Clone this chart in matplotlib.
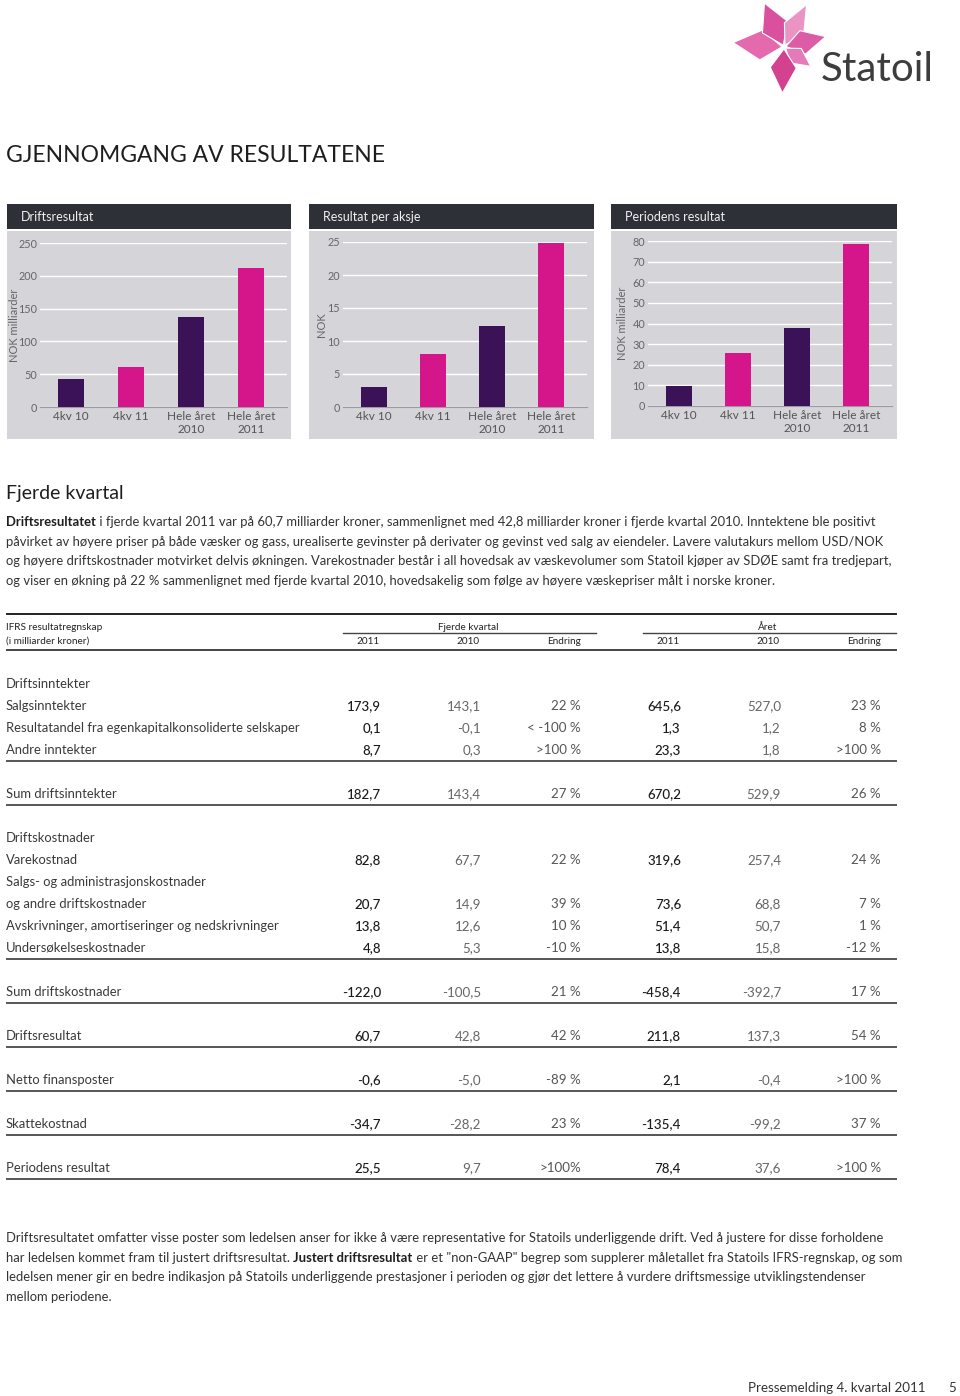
import matplotlib
matplotlib.use('Agg')
import matplotlib.pyplot as plt
from matplotlib.patches import Rectangle, Polygon
import numpy as np

plt.rcParams['font.family'] = ['Lato', 'DejaVu Sans']

# ---- data: bar charts
kategorier = ['4kv 10', '4kv 11', 'Hele året\n2010', 'Hele året\n2011']
driftsresultat = [42.8, 60.7, 137.3, 211.8]
resultat_aksje = [3.0, 8.1, 12.2, 24.8]
periodens_resultat = [9.7, 25.5, 37.6, 78.4]
farger = ['#3b1158', '#d5158a', '#3b1158', '#d5158a']

# ---- data: tabell
rad_tekst = ['Driftsinntekter', 'Salgsinntekter',
             'Resultatandel fra egenkapitalkonsoliderte selskaper', 'Andre inntekter',
             'Sum driftsinntekter', 'Driftskostnader', 'Varekostnad',
             'Salgs- og administrasjonskostnader', 'og andre driftskostnader',
             'Avskrivninger, amortiseringer og nedskrivninger', 'Undersøkelseskostnader',
             'Sum driftskostnader', 'Driftsresultat', 'Netto finansposter',
             'Skattekostnad', 'Periodens resultat']
kv_2011 = ['', '173,9', '0,1', '8,7', '182,7', '', '82,8', '', '20,7', '13,8', '4,8',
           '-122,0', '60,7', '-0,6', '-34,7', '25,5']
kv_2010 = ['', '143,1', '-0,1', '0,3', '143,4', '', '67,7', '', '14,9', '12,6', '5,3',
           '-100,5', '42,8', '-5,0', '-28,2', '9,7']
kv_endr = ['', '22 %', '< -100 %', '>100 %', '27 %', '', '22 %', '', '39 %', '10 %', '-10 %',
           '21 %', '42 %', '-89 %', '23 %', '>100%']
ar_2011 = ['', '645,6', '1,3', '23,3', '670,2', '', '319,6', '', '73,6', '51,4', '13,8',
           '-458,4', '211,8', '2,1', '-135,4', '78,4']
ar_2010 = ['', '527,0', '1,2', '1,8', '529,9', '', '257,4', '', '68,8', '50,7', '15,8',
           '-392,7', '137,3', '-0,4', '-99,2', '37,6']
ar_endr = ['', '23 %', '8 %', '>100 %', '26 %', '', '24 %', '', '7 %', '1 %', '-12 %',
           '17 %', '54 %', '>100 %', '37 %', '>100 %']
slutt_gruppe = [3, 4, 10, 11, 12, 13, 14, 15]

W, H = 960, 1396
fig = plt.figure(figsize=(W / 100, H / 100), dpi=100)
ax = fig.add_axes([0, 0, 1, 1])
ax.set_xlim(0, W)
ax.set_ylim(H, 0)
ax.axis('off')

TXT = '#333333'

# ---- logo
senter = np.array([784.0, 47.0])
blader = [(175, 51, 15, '#e46aad'), (114, 48, 14, '#d9509f'), (62, 48, 11, '#eb94c4'),
          (14, 43, 12, '#dd5ca6'), (-36, 33, 9, '#e47ab7'), (-92, 46, 13, '#d4418f')]
for vinkel, lengde, bredde, c in blader:
    a = np.deg2rad(vinkel)
    d = np.array([np.cos(a), -np.sin(a)])
    n = np.array([-d[1], d[0]])
    p0 = senter + d * 2
    p1 = senter + d * (lengde * 0.45) + n * bredde
    p2 = senter + d * lengde
    p3 = senter + d * (lengde * 0.45) - n * bredde
    ax.add_patch(Polygon([p0, p1, p2, p3], closed=True, fc=c, ec='white', lw=0.8))
ax.text(821, 81, 'Statoil', fontsize=29, color='#3d3d3d', va='baseline', ha='left')

# ---- tittel
ax.text(6, 162, 'GJENNOMGANG AV RESULTATENE', fontsize=16.5, color='#1e1e1e', va='baseline')


def px_akse(x1, y1, x2, y2):
    return fig.add_axes([x1 / W, 1 - y2 / H, (x2 - x1) / W, (y2 - y1) / H])


paneler = [
    ('Driftsresultat', driftsresultat, 'NOK milliarder', 7, 291, (40, 243, 287, 407), 250, 50, 15),
    ('Resultat per aksje', resultat_aksje, 'NOK', 309, 594, (343, 242, 587, 407), 25, 5, 321),
    ('Periodens resultat', periodens_resultat, 'NOK milliarder', 611, 897, (648, 241, 892, 406), 80, 10, 622),
]
for tittel, verdier, ylabel, px1, px2, boks, ymax, ysteg, ylx in paneler:
    ax.add_patch(Rectangle((px1, 204), px2 - px1, 25, fc='#2e3037', ec='none'))
    ax.text(px1 + 14, 217, tittel, fontsize=9, color='#f0f0f0', va='center')
    ax.add_patch(Rectangle((px1, 231), px2 - px1, 208, fc='#d5d5d9', ec='none'))
    ax.text(ylx, (boks[1] + boks[3]) / 2, ylabel, rotation=90, fontsize=8,
            color='#666666', va='center', ha='center')

    cax = px_akse(*boks)
    cax.set_facecolor('none')
    pos = np.arange(len(kategorier))
    cax.bar(pos, verdier, width=0.44, color=farger, zorder=3)
    cax.set_xlim(-0.52, 3.6)
    cax.set_ylim(0, ymax)
    cax.set_yticks(np.arange(0, ymax + 1, ysteg))
    cax.set_xticks(pos)
    cax.set_xticklabels(kategorier, fontsize=8.5, color='#555555', linespacing=1.2)
    cax.tick_params(axis='y', labelsize=7.8, labelcolor='#666666', length=0, pad=2)
    cax.tick_params(axis='x', length=0, pad=3)
    cax.grid(axis='y', color='white', lw=1.0, zorder=0)
    for s in ['top', 'right', 'left']:
        cax.spines[s].set_visible(False)
    cax.spines['bottom'].set_color('#9a9aa0')
    cax.spines['bottom'].set_linewidth(0.8)


# ---- tekst med fet start
def linje(x, y, deler, size=9.35):
    forrige = None
    for tekst, fet in deler:
        kw = dict(fontsize=size, color='#1e1e1e' if fet else TXT,
                  fontweight='bold' if fet else 'normal')
        if forrige is None:
            forrige = ax.text(x, y, tekst, va='bottom', ha='left', **kw)
        else:
            forrige = ax.annotate(tekst, xy=(1, 0), xycoords=forrige,
                                  va='bottom', ha='left', **kw)


ax.text(6, 499, 'Fjerde kvartal', fontsize=14, color='#1e1e1e', va='baseline')

avsnitt1 = [
    [('Driftsresultatet', True), (' i fjerde kvartal 2011 var på 60,7 milliarder kroner, sammenlignet med 42,8 milliarder kroner i fjerde kvartal 2010. Inntektene ble positivt', False)],
    [('påvirket av høyere priser på både væsker og gass, urealiserte gevinster på derivater og gevinst ved salg av eiendeler. Lavere valutakurs mellom USD/NOK', False)],
    [('og høyere driftskostnader motvirket delvis økningen. Varekostnader består i all hovedsak av væskevolumer som Statoil kjøper av SDØE samt fra tredjepart,', False)],
    [('og viser en økning på 22 % sammenlignet med fjerde kvartal 2010, hovedsakelig som følge av høyere væskepriser målt i norske kroner.', False)],
]
for i, deler in enumerate(avsnitt1):
    linje(6, 528 + i * 19.6, deler)

avsnitt2 = [
    [('Driftsresultatet omfatter visse poster som ledelsen anser for ikke å være representative for Statoils underliggende drift. Ved å justere for disse forholdene', False)],
    [('har ledelsen kommet fram til justert driftsresultat. ', False), ('Justert driftsresultat', True), (' er et "non-GAAP" begrep som supplerer måletallet fra Statoils IFRS-regnskap, og som', False)],
    [('ledelsen mener gir en bedre indikasjon på Statoils underliggende prestasjoner i perioden og gjør det lettere å vurdere driftsmessige utviklingstendenser', False)],
    [('mellom periodene.', False)],
]
for i, deler in enumerate(avsnitt2):
    linje(6, 1244 + i * 19.6, deler)

# ---- tabell
HS = 7.2
ax.plot([7, 896], [614, 614], color='#222222', lw=1.4)
ax.plot([7, 896], [650, 650], color='#444444', lw=1.4)
ax.text(6, 627, 'IFRS resultatregnskap', fontsize=HS, color='#222222', va='center')
ax.text(6, 641, '(i milliarder kroner)', fontsize=HS, color='#222222', va='center')
ax.text(468, 627, 'Fjerde kvartal', fontsize=HS, color='#222222', va='center', ha='center')
ax.text(768, 627, 'Året', fontsize=HS, color='#222222', va='center', ha='center')
ax.plot([343, 596], [633, 633], color='#444444', lw=1.0)
ax.plot([643, 896], [633, 633], color='#444444', lw=1.0)
for x0 in [0, 300]:
    ax.text(368 + x0, 641, '2011', fontsize=HS, color='#222222', va='center', ha='center')
    ax.text(468 + x0, 641, '2010', fontsize=HS, color='#222222', va='center', ha='center')
    ax.text(581 + x0, 641, 'Endring', fontsize=HS, color='#222222', va='center', ha='right')

kolonner = [(kv_2011, 381, '#1a1a1a', 'medium'), (kv_2010, 481, '#666666', 'normal'),
            (kv_endr, 581, '#555555', 'normal'), (ar_2011, 681, '#1a1a1a', 'medium'),
            (ar_2010, 781, '#666666', 'normal'), (ar_endr, 881, '#555555', 'normal')]
k = 0
for i, tekst in enumerate(rad_tekst):
    y = 684 + 22 * k
    ax.text(6, y, tekst, fontsize=9.35, color='#3a3a3a', va='center')
    for verdier, xr, c, vekt in kolonner:
        ax.text(xr, y, verdier[i], fontsize=9.6, color=c, fontweight=vekt, va='center', ha='right')
    if i in slutt_gruppe:
        ax.plot([7, 896], [y + 11, y + 11], color='#555555', lw=1.4)
        k += 2
    else:
        k += 1

# ---- bunntekst
ax.text(925, 1388, 'Pressemelding 4. kvartal 2011', fontsize=9.6,
        color='#333333', va='center', ha='right')
ax.text(956, 1388, '5', fontsize=9.6, color='#333333', va='center', ha='right')

fig.savefig('out.png', dpi=100)
